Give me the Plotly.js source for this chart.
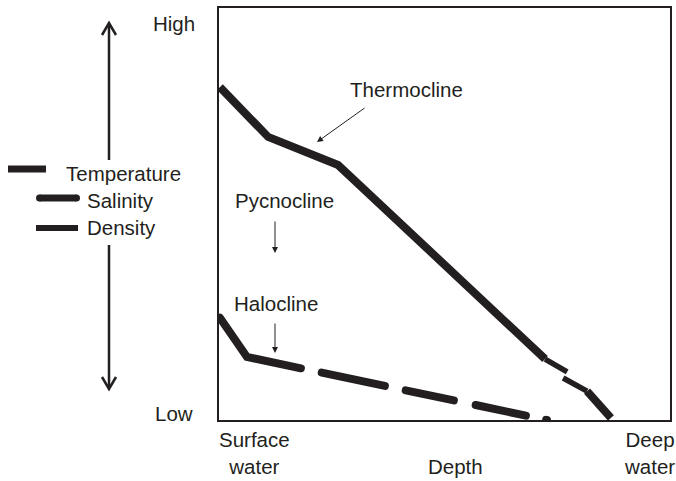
<!DOCTYPE html>
<html>
<head>
<meta charset="utf-8">
<script src="https://cdn.plot.ly/plotly-3.0.1.min.js"></script>
<style>html,body{margin:0;padding:0;background:#fff;}#chart{width:676px;height:481px;}</style>
</head>
<body>
<div id="chart"></div>
<script>
// ---- data (depth 0-100, relative value 0-100) ----
var tempDepth     = [0.2, 10.9, 26.4, 72.3, null, 81.6, 86.9];
var tempValue     = [80.8, 68.7, 61.9, 14.8, null, 7.0, 0.5];
var tempTaperDepth = [72.3, 77.2, null, 76.3, 81.6];
var tempTaperValue = [14.8, 11.7, null, 10.2, 7.0];
var salDepth      = [0.2, 6.2, 72.7];
var salValue      = [24.8, 15.3, 0.0];
var legendNames   = ['Temperature', 'Salinity', 'Density'];
var levelLabels   = ['High', 'Low'];
var zoneLabels    = ['Thermocline', 'Pycnocline', 'Halocline'];

var INK = '#231f20';
var FONT = {family: 'Liberation Sans, Arial, sans-serif', size: 20.5, color: INK};
var L = 219, R = 670, T = 8, B = 420;
function px(x){ return (x - L) / (R - L); }
function py(y){ return (B - y) / (B - T); }

var traces = [
  {x: tempDepth, y: tempValue, mode: 'lines', line: {color: INK, width: 8}, connectgaps: false, hoverinfo: 'skip'},
  {x: tempTaperDepth, y: tempTaperValue, mode: 'lines', line: {color: INK, width: 5.5}, connectgaps: false, hoverinfo: 'skip'},
  {x: salDepth, y: salValue, mode: 'lines', line: {color: INK, width: 8, dash: '102.7px,21.3px,64.5px,21.3px,49.2px,22.3px,51.3px,20.7px,1px,200px'}, hoverinfo: 'skip', name: 'sal'}
];

function ann(text, x, y, xanchor){
  return {text: text, xref: 'paper', yref: 'paper', x: px(x), y: py(y), xanchor: xanchor || 'center', yanchor: 'middle', showarrow: false, font: FONT, borderpad: 0};
}
function arrow(tx, ty, hx, hy){
  return {text: '', xref: 'paper', yref: 'paper', x: px(hx), y: py(hy), ax: tx - hx, ay: ty - hy, axref: 'pixel', ayref: 'pixel', showarrow: true, arrowhead: 2, arrowsize: 1.2, arrowwidth: 1, arrowcolor: INK};
}

var annotations = [
  ann(levelLabels[0], 174, 24),
  ann(levelLabels[1], 174, 413),
  ann(zoneLabels[0], 406, 89),
  ann(zoneLabels[1], 284, 200),
  ann(zoneLabels[2], 276, 303),
  ann('Surface<br>water', 254, 453),
  ann('Deep<br>water', 649, 453),
  ann('Depth', 455, 466),
  ann(legendNames[0], 65, 173, 'left'),
  ann(legendNames[1], 86, 200, 'left'),
  ann(legendNames[2], 86, 227, 'left'),
  arrow(366, 107, 317, 142),
  arrow(275, 220, 275, 253),
  arrow(275, 322, 275, 353)
];

function seg(x0, y0, x1, y1, w){
  return {type: 'line', xref: 'paper', yref: 'paper', x0: px(x0), y0: py(y0), x1: px(x1), y1: py(y1), line: {color: INK, width: w}};
}
function dot(cx, cy, r){
  return {type: 'circle', xref: 'paper', yref: 'paper', x0: px(cx - r), x1: px(cx + r), y0: py(cy + r), y1: py(cy - r), fillcolor: INK, line: {width: 0}};
}
function pth(pts, w){
  var d = pts.map(function(p, i){ return (i ? 'L' : 'M') + px(p[0]) + ',' + py(p[1]); }).join(' ');
  return {type: 'path', xref: 'paper', yref: 'paper', path: d, line: {color: INK, width: w}};
}

var shapes = [
  // vertical High/Low double arrow
  seg(109, 160, 109, 24, 2.5),
  pth([[102, 35], [109, 23], [116, 35]], 2.5),
  seg(109, 245, 109, 388, 2.5),
  pth([[102, 377], [109, 389], [116, 377]], 2.5),
  // legend marks
  seg(8, 169, 46, 169, 7),
  seg(39.5, 198, 76.5, 198, 7),
  dot(39.5, 198, 3.5),
  dot(76.5, 198, 3.5),
  seg(36, 228, 78, 228, 6)
];

var layout = {
  width: 676, height: 481,
  margin: {l: L, r: 676 - R, t: T, b: 481 - B},
  paper_bgcolor: '#fff', plot_bgcolor: '#fff',
  showlegend: false,
  xaxis: {range: [0, 100], showgrid: false, zeroline: false, showticklabels: false, ticks: '', showline: true, mirror: true, linecolor: INK, linewidth: 2, fixedrange: true},
  yaxis: {range: [0, 100], showgrid: false, zeroline: false, showticklabels: false, ticks: '', showline: true, mirror: true, linecolor: INK, linewidth: 2, fixedrange: true},
  annotations: annotations,
  shapes: shapes
};

Plotly.newPlot('chart', traces, layout, {staticPlot: true, displayModeBar: false}).then(function(gd){
  var paths = gd.querySelectorAll('.scatterlayer .trace');
  var last = paths[paths.length - 1];
  if (last) last.querySelectorAll('path.js-line').forEach(function(p){ p.style.strokeLinecap = 'round'; });
});
</script>
</body>
</html>
